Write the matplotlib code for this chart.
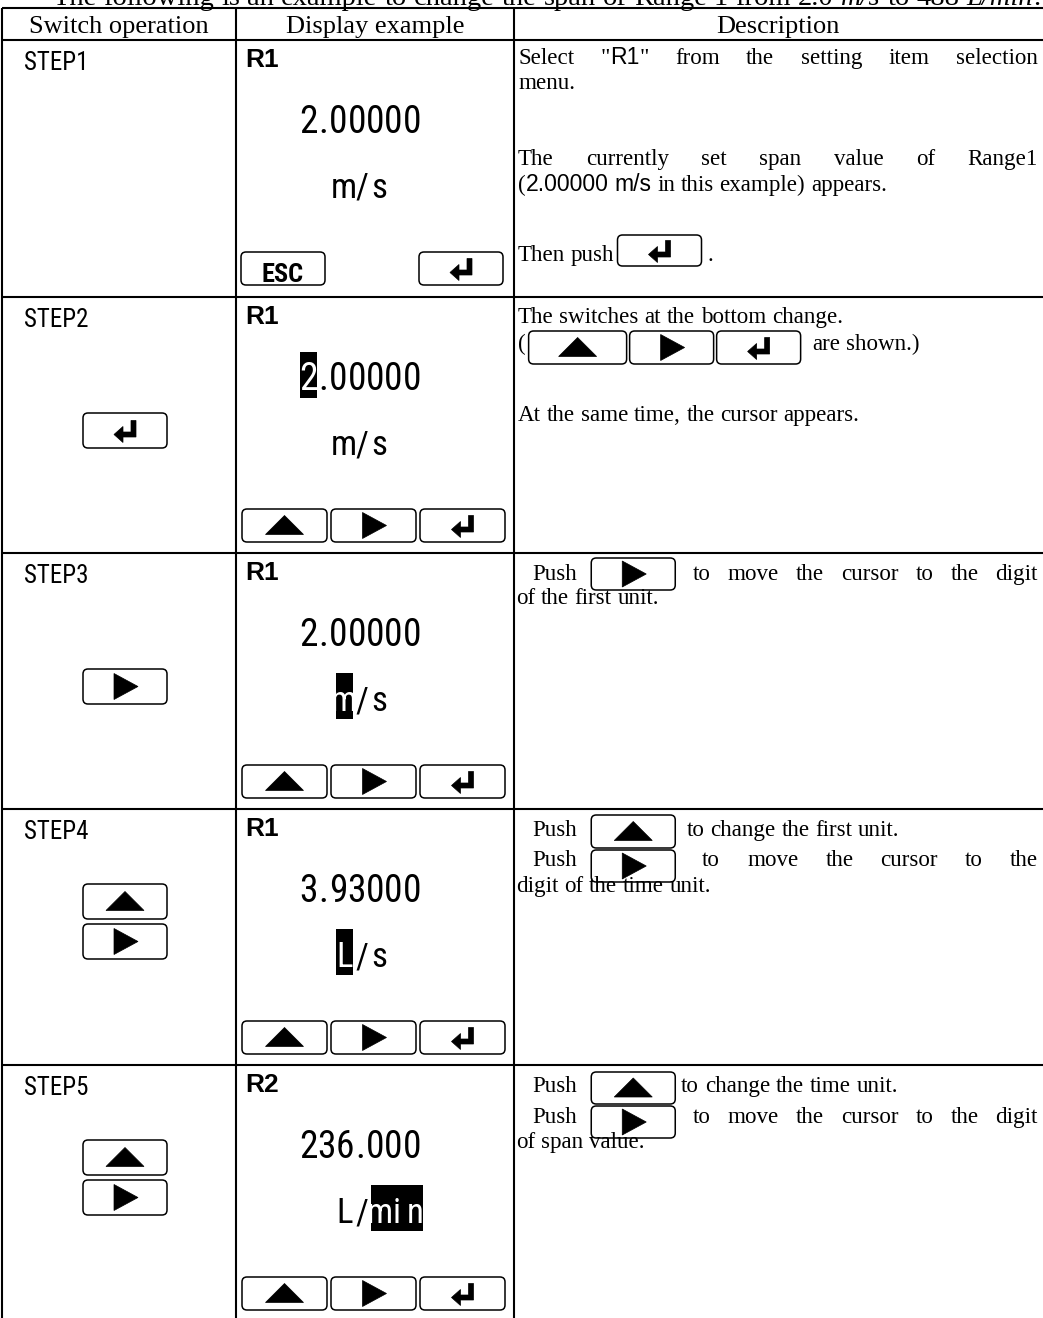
import os
import re
import matplotlib
matplotlib.use('Agg')
import matplotlib.pyplot as plt
from matplotlib.patches import FancyBboxPatch, Polygon, Rectangle
from matplotlib import font_manager
from matplotlib.font_manager import FontProperties

# ---------------- data ----------------
title_text = 'The following is an example to change the span of Range 1 from 2.0 |m/s| to 488 |L/min|.'
headers = ['Switch operation', 'Display example', 'Description']
steps = ['STEP1', 'STEP2', 'STEP3', 'STEP4', 'STEP5']
display_tags = ['R1', 'R1', 'R1', 'R1', 'R2']
display_values = ['2.00000', '2.00000', '2.00000', '3.93000', '236.000']
display_units = ['m/s', 'm/s', 'm/s', 'L/s', 'L/min']
cursor_field = [None, 'value', 'unit', 'unit', 'unit']
cursor_start = [0, 0, 0, 0, 2]
cursor_len = [0, 1, 1, 1, 3]
display_keys = [['ESC', 'ENTER'],
                ['UP', 'RIGHT', 'ENTER'],
                ['UP', 'RIGHT', 'ENTER'],
                ['UP', 'RIGHT', 'ENTER'],
                ['UP', 'RIGHT', 'ENTER']]
switch_keys = [[], ['ENTER'], ['RIGHT'], ['UP', 'RIGHT'], ['UP', 'RIGHT']]
descriptions = [
    ['Select "[R1]" from the setting item selection',
     'menu.',
     'The currently set span value of Range1',
     '([2.00000] [m/s] in this example) appears.',
     'Then push{ENTER} .'],
    ['The switches at the bottom change.',
     '({UP:98}{RIGHT}{ENTER}  are shown.)',
     'At the same time, the cursor appears.'],
    ['Push~~{RIGHT} to move the cursor to the digit',
     'of the first unit.'],
    ['Push~~{UP}  to change the first unit.',
     'Push~~{RIGHT} to move the cursor to the',
     'digit of the time unit.'],
    ['Push~~{UP} to change the time unit.',
     'Push~~{RIGHT} to move the cursor to the digit',
     'of span value.'],
]

# ---------------- layout / style ----------------
W, H, DPI = 1043, 1318, 100
names = {f.name for f in font_manager.fontManager.ttflist}


def pick(*fams):
    for f in fams:
        if f in names:
            return f
    return 'DejaVu Sans'


SERIF = pick('Liberation Serif', 'DejaVu Serif')
SANS = pick('Liberation Sans', 'DejaVu Sans')


def wnum(w):
    if isinstance(w, (int, float)):
        return w
    return font_manager.weight_dict.get(w, 400)


def find_condensed(bold):
    fam_rank = ['Liberation Sans Narrow', 'Liberation Sans', 'Arial Narrow', 'Roboto Condensed',
                'Roboto', 'DejaVu Sans', 'Noto Sans', 'Open Sans', 'Lato', 'Inter']
    best = None
    for f in font_manager.fontManager.ttflist:
        base = os.path.basename(f.fname)
        if f.style != 'normal':
            continue
        if 'Mono' in f.name or 'Serif' in f.name or 'CJK' in f.name:
            continue
        tag = (f.name + ' ' + base + ' ' + str(f.stretch)).lower()
        if not ('narrow' in tag or 'condensed' in tag):
            continue
        if 'extra' in tag or 'ultra' in tag:
            srank = 2
        elif 'semi' in tag:
            srank = 1
        else:
            srank = 0
        frank = len(fam_rank)
        for i, fr in enumerate(fam_rank):
            if f.name.startswith(fr):
                frank = i
                break
        target = 700 if bold else 400
        score = (srank, abs(wnum(f.weight) - target), frank)
        if best is None or score < best[0]:
            best = (score, f.fname)
    return best[1] if best else None


COND_R = find_condensed(False)
COND_B = find_condensed(True)


def cond_fp(size, bold=False):
    path = COND_B if bold else COND_R
    if path:
        return FontProperties(fname=path, size=size)
    return FontProperties(family=SANS, weight='bold' if bold else 'normal', size=size * 0.87)


row_tops = [40, 297, 553, 809, 1065]
col_x = [2, 236, 514]
DESC_X1 = 1038
DESC_SIZE = 16.6
# (x0, baseline offset, justify, button top offset from baseline, button height)
desc_layout = [
    [(518, 24, True, 0, 0), (518, 49, False, 0, 0), (518, 125, True, 0, 0),
     (518, 151, False, 0, 0), (518, 221, False, -26, 31)],
    [(518, 26, False, 0, 0), (518, 53, False, -19, 33), (518, 124, False, 0, 0)],
    [(532, 27, True, -22, 32), (516, 51, False, 0, 0)],
    [(532, 27, False, -21, 33), (532, 57, True, -16, 32), (516, 83, False, 0, 0)],
    [(532, 27, False, -20, 32), (532, 58, True, -17, 32), (516, 83, False, 0, 0)],
]

fig = plt.figure(figsize=(W / DPI, H / DPI), dpi=DPI)
ax = fig.add_axes([0, 0, 1, 1])
ax.set_xlim(0, W)
ax.set_ylim(H, 0)
ax.axis('off')
renderer = fig.canvas.get_renderer()

LW = 1.5
BLW = 1.1


def width_of(t):
    return t.get_window_extent(renderer).width


def key(x, y, w, h, kind):
    ax.add_patch(FancyBboxPatch((x, y), w, h, boxstyle='round,pad=0,rounding_size=5',
                                fc='white', ec='black', lw=BLW, zorder=3))
    cx, cy = x + w / 2, y + h / 2
    if kind == 'UP':
        pts = [(cx - 19, cy + 9), (cx + 19, cy + 9), (cx, cy - 10)]
    elif kind == 'RIGHT':
        pts = [(cx - 11, cy - 13), (cx - 11, cy + 13), (cx + 13, cy)]
    elif kind == 'ENTER':
        pts = [(cx - 11, cy + 4), (cx - 2, cy - 4), (cx - 2, cy + 1.5), (cx + 6, cy + 1.5),
               (cx + 6, cy - 10), (cx + 11, cy - 10), (cx + 11, cy + 6.5), (cx - 2, cy + 6.5),
               (cx - 2, cy + 12)]
    else:
        ax.text(cx, y + h - 3, kind, fontproperties=cond_fp(19, bold=True),
                ha='center', va='baseline', zorder=4)
        return
    ax.add_patch(Polygon(pts, closed=True, fc='black', ec='black', lw=0.5, zorder=4))


PART_RE = re.compile(r'(\{[A-Z]+(?::\d+)?\}|\[[^\]]*\]|\|[^|]*\||~)')


def rich_line(spec, x0, base, justify=False, x1=None, btn_top=-22, btn_h=32, size=DESC_SIZE):
    raw = spec.split(' ')
    words = []
    gaps = 0
    for w in raw:
        if w == '':
            gaps += 1
            continue
        words.append([gaps if words else 0, w])
        gaps = 1
    sp_a = ax.text(0, -100, 'x x', family=SERIF, fontsize=size)
    sp_b = ax.text(0, -100, 'xx', family=SERIF, fontsize=size)
    space = width_of(sp_a) - width_of(sp_b)
    sp_a.remove()
    sp_b.remove()
    items = []
    for g, w in words:
        parts = []
        for p in PART_RE.split(w):
            if p == '':
                continue
            if p == '~':
                parts.append(['sp', None, space])
            elif p.startswith('{'):
                k = p[1:-1]
                bw = 84
                if ':' in k:
                    k, bw = k.split(':')
                    bw = int(bw)
                parts.append(['btn', k, bw])
            else:
                if p.startswith('['):
                    t = ax.text(0, base, p[1:-1], family=SANS, fontsize=size, va='baseline')
                elif p.startswith('|'):
                    t = ax.text(0, base, p[1:-1], family=SERIF, style='italic', fontsize=size,
                                va='baseline')
                else:
                    t = ax.text(0, base, p, family=SERIF, fontsize=size, va='baseline')
                parts.append(['txt', t, width_of(t)])
        items.append(parts)
    wword = []
    for parts in items:
        tot = 0
        for i, p in enumerate(parts):
            if i > 0 and (p[0] == 'btn' or parts[i - 1][0] == 'btn'):
                tot += 3
            tot += p[2]
        wword.append(tot)
    natural = sum(wword) + sum(g for g, _ in words) * space
    ngaps = len(words) - 1
    extra = 0
    if justify and ngaps > 0 and x1 is not None:
        extra = (x1 - x0 - natural) / ngaps
    x = x0
    for wi, ((g, _), parts) in enumerate(zip(words, items)):
        if wi > 0:
            x += g * space + extra
        for i, p in enumerate(parts):
            if i > 0 and (p[0] == 'btn' or parts[i - 1][0] == 'btn'):
                x += 3
            if p[0] == 'btn':
                key(x, base + btn_top, p[2], btn_h, p[1])
            elif p[0] == 'txt':
                p[1].set_x(x)
            x += p[2]


# ---------------- table lines ----------------
for y in [8] + row_tops:
    ax.plot([col_x[0], W], [y, y], color='black', lw=LW, solid_capstyle='butt')
for x in col_x:
    ax.plot([x, x], [8, H], color='black', lw=LW, solid_capstyle='butt')

# title (cut off at the top of the page)
rich_line(title_text, 52, 5, size=20.5)

# headers
head_centers = [119, 375, 778]
for cx, h in zip(head_centers, headers):
    ax.text(cx, 33, h, family=SERIF, fontsize=19, ha='center', va='baseline')

DIGIT_PITCH = 18.3
DOT_W = 11.5
UNIT_PITCH = 17.6


def display_field(s, x0, base, fs, hl_from, hl_n):
    cells = []
    x = x0
    for ch in s:
        w = DOT_W if ch == '.' else (DIGIT_PITCH if ch.isdigit() else UNIT_PITCH)
        cells.append((x, w))
        x += w
    if hl_n:
        xa = cells[hl_from][0] - 0.5
        xb = cells[hl_from + hl_n - 1][0] + cells[hl_from + hl_n - 1][1] - 1
        ax.add_patch(Rectangle((xa, base - 38), xb - xa, 46, fc='black', ec='none', zorder=2))
    fp = cond_fp(fs)
    for i, (ch, (cx, w)) in enumerate(zip(s, cells)):
        white = hl_from <= i < hl_from + hl_n
        ax.text(cx + w / 2 - 0.5, base, ch, fontproperties=fp, va='baseline', ha='center',
                color='white' if white else 'black', zorder=3)


for r, top in enumerate(row_tops):
    # switch column
    ax.text(24, top + 30, steps[r], fontproperties=cond_fp(18), va='baseline')
    sk = switch_keys[r]
    if len(sk) == 1:
        key(83, top + 116, 84, 35, sk[0])
    elif len(sk) == 2:
        key(83, top + 75, 84, 35, sk[0])
        key(83, top + 115, 84, 35, sk[1])

    # display column
    ax.text(245, top + 27, display_tags[r], family=SANS, weight='bold', fontsize=19, va='baseline')
    v_hl = (cursor_start[r], cursor_len[r]) if cursor_field[r] == 'value' else (0, 0)
    u_hl = (cursor_start[r], cursor_len[r]) if cursor_field[r] == 'unit' else (0, 0)
    display_field(display_values[r], 300, top + 93, 27, *v_hl)
    display_field(display_units[r], 336, top + 158, 25, *u_hl)

    kb = top + 245
    dk = display_keys[r]
    if len(dk) == 2:
        key(241, kb - 33, 84, 33, dk[0])
        key(419, kb - 33, 84, 33, dk[1])
    else:
        for kx, k in zip([242, 331, 420], dk):
            key(kx, kb - 33, 85, 33, k)

    # description column
    for spec, (x0, off, just, bt, bh) in zip(descriptions[r], desc_layout[r]):
        rich_line(spec, x0, top + off, justify=just, x1=DESC_X1, btn_top=bt, btn_h=bh)

fig.savefig('out.png', dpi=DPI)
